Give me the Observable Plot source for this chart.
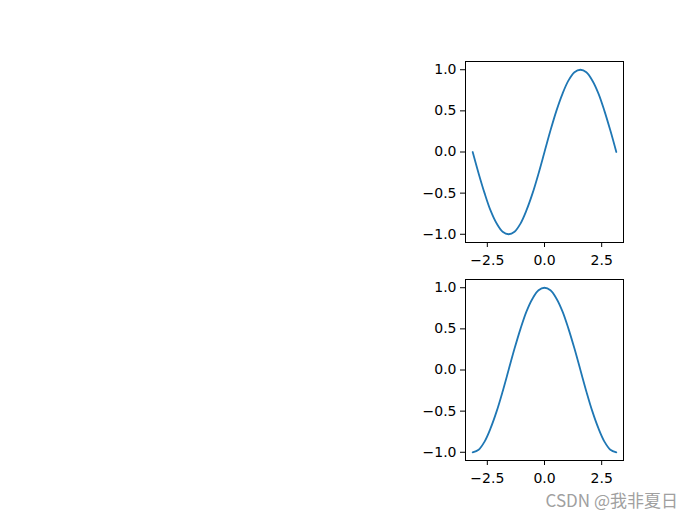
<!DOCTYPE html>
<html>
<head>
<meta charset="utf-8">
<script src="https://cdn.jsdelivr.net/npm/d3@7"></script>
<script src="https://cdn.jsdelivr.net/npm/@observablehq/plot@0.6"></script>
<style>
  html, body { margin: 0; padding: 0; background: #fff; }
  #root { position: relative; width: 692px; height: 515px; overflow: hidden; background: #fff; }
  .panel { position: absolute; }
  #wm { position: absolute; right: 14px; top: 491px; line-height: 1; font-family: "Noto Sans CJK SC", "DejaVu Sans", sans-serif; font-size: 17px; color: #a0a0a0; white-space: nowrap; }
</style>
</head>
<body>
<div id="root">
  <div id="p1" class="panel" style="left:405px; top:50px;"></div>
  <div id="p2" class="panel" style="left:405px; top:268px;"></div>
  <div id="wm">CSDN @我非夏日</div>
</div>
<script>
// Values
const xValues = [-3.14, -2.88, -2.62, -2.36, -2.09, -1.83, -1.57, -1.31, -1.05, -0.79, -0.52, -0.26, 0, 0.26, 0.52, 0.79, 1.05, 1.31, 1.57, 1.83, 2.09, 2.36, 2.62, 2.88, 3.14];
const topValues = [0, -0.26, -0.5, -0.71, -0.87, -0.97, -1.0, -0.97, -0.87, -0.71, -0.5, -0.26, 0, 0.26, 0.5, 0.71, 0.87, 0.97, 1.0, 0.97, 0.87, 0.71, 0.5, 0.26, 0];
const bottomValues = [-1.0, -0.97, -0.87, -0.71, -0.5, -0.26, 0, 0.26, 0.5, 0.71, 0.87, 0.97, 1.0, 0.97, 0.87, 0.71, 0.5, 0.26, 0, -0.26, -0.5, -0.71, -0.87, -0.97, -1.0];
const xTicks = [-2.5, 0, 2.5];
const yTicks = [-1.0, -0.5, 0.0, 0.5, 1.0];

const fmt = v => d3.format(".1f")(v).replace("-", "\u2212");

function panel(yValues) {
  const data = xValues.map((x, i) => ({x, y: yValues[i]}));
  const xExt = d3.extent(xValues), yExt = d3.extent(yValues);
  const xPad = (xExt[1] - xExt[0]) * 0.05, yPad = (yExt[1] - yExt[0]) * 0.05;
  return Plot.plot({
    width: 228,
    height: 222,
    marginLeft: 60,
    marginRight: 10,
    marginTop: 11,
    marginBottom: 30,
    style: {fontFamily: "DejaVu Sans", fontSize: "14px", color: "#000", background: "transparent"},
    x: {domain: [xExt[0] - xPad, xExt[1] + xPad]},
    y: {domain: [yExt[0] - yPad, yExt[1] + yPad]},
    marks: [
      Plot.line(data, {x: "x", y: "y", stroke: "#1f77b4", strokeWidth: 1.8, curve: "catmull-rom"}),
      Plot.frame({stroke: "#000", strokeWidth: 1}),
      Plot.axisX({ticks: xTicks, tickFormat: fmt, tickSize: 5, tickPadding: 8, label: null, fontSize: 14}),
      Plot.axisY({ticks: yTicks, tickFormat: fmt, tickSize: 5, tickPadding: 4, label: null, fontSize: 14})
    ]
  });
}

document.getElementById("p1").appendChild(panel(topValues));
document.getElementById("p2").appendChild(panel(bottomValues));
</script>
</body>
</html>
